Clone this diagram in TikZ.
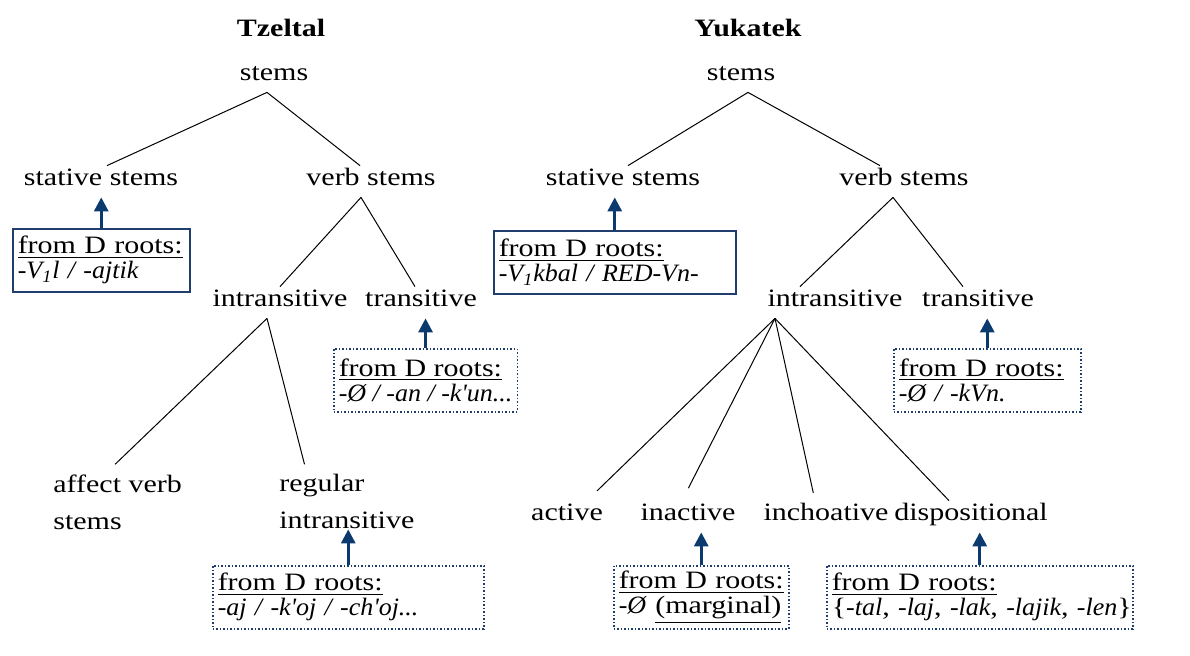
\documentclass[tikz,border=0pt]{standalone}
\usepackage{fontspec}
\setmainfont[FakeStretch=1.2,ItalicFeatures={FakeStretch=1.04}]{Liberation Serif}
\usepackage{tikz}
\usetikzlibrary{arrows.meta,positioning,calc}
\definecolor{Navy}{HTML}{1F3E6E}
\definecolor{DeepNavy}{HTML}{0B3A6E}

\begin{document}
\begin{tikzpicture}[
  x=0.5pt, y=-0.5pt,
  lbl/.style={
    anchor=base,
    inner sep=1pt,
    text height=8.5pt,
    text depth=5pt,
    font=\fontsize{12.5}{15}\selectfont
  },
  title/.style={
    lbl,
    font=\fontsize{12.5}{15}\selectfont\bfseries
  },
  leaf/.style={
    anchor=north west,
    inner sep=0pt,
    align=left,
    font=\fontsize{12.5}{18.5}\selectfont
  },
  rootbox/.style={
    anchor=north west,
    draw=Navy,
    line width=0.75pt,
    inner xsep=2.5pt,
    inner ysep=1pt,
    minimum height=31.5pt,
    align=left,
    font=\fontsize{12.5}{12.5}\selectfont
  },
  dotbox/.style={
    rootbox,
    densely dotted
  },
  branch/.style={black,line width=0.5pt},
  uparrow/.style={-{Triangle[width=7pt,length=7pt]},line width=1.5pt,color=DeepNavy}
]
\fill[white] (0,0) rectangle (1190,655);
\useasboundingbox (0,0) rectangle (1190,655);

\node[title] (tztitle) at (281,36) {Tzeltal};
\node[lbl] (tzstems) at (274,80) {stems};
\node[lbl] (tzstat) at (101,185) {stative stems};
\node[lbl] (tzverb) at (371,185) {verb stems};
\node[lbl] (tzintr) at (280,306) {intransitive};
\node[lbl] (tztrans) at (421,306) {transitive};
\node[leaf] (tzaffect) at (53,474) {affect verb\\stems};
\node[leaf] (tzreg) at (279,474) {regular\\intransitive};

\node[rootbox,text width=83.5pt] (tzstatbox) at (12,228) {\underline{from D roots:}\\\mbox{\textit{-V\textsubscript{1}l / -ajtik}}};
\node[dotbox] (tztransbox) at (333,348) {\underline{from D roots:}\\\mbox{\textit{-Ø / -an / -k\textquotesingle un...}}};
\node[dotbox,text width=130.5pt] (tzregbox) at (212,565) {\underline{from D roots:}\\\mbox{\textit{-aj / -k\textquotesingle oj / -ch\textquotesingle oj...}}};

\node[title] (yktitle) at (748,36) {Yukatek};
\node[lbl] (ykstems) at (741,80) {stems};
\node[lbl] (ykstat) at (623,185) {stative stems};
\node[lbl] (ykverb) at (904,185) {verb stems};
\node[lbl] (ykintr) at (835,306) {intransitive};
\node[lbl] (yktrans) at (978,306) {transitive};
\node[lbl] (ykact) at (567,520) {active};
\node[lbl] (ykinact) at (688,520) {inactive};
\node[lbl] (ykinch) at (826,520) {inchoative};
\node[lbl] (ykdisp) at (971,520) {dispositional};

\node[rootbox,text width=116pt] (ykstatbox) at (493,230) {\underline{from D roots:}\\\mbox{\textit{-V\textsubscript{1}kbal / RED-Vn-}}};
\node[dotbox,text width=88.5pt] (yktransbox) at (893,348) {\underline{from D roots:}\\\mbox{\textit{-Ø / -kVn.}}};
\node[dotbox,text width=82.5pt] (ykinactbox) at (613,565) {\underline{from D roots:}\\\mbox{\textit{-Ø} \underline{(marginal)}}};
\node[dotbox,text width=148pt] (ykdispbox) at (826,565) {\underline{from D roots:}\\\mbox{\{\textit{-tal}, \textit{-laj}, \textit{-lak}, \textit{-lajik}, \textit{-len}\}}};

\draw[branch] ([xshift=-3.5pt]tzstems.south) -- ([xshift=3pt]tzstat.north);
\draw[branch] ([xshift=-3.5pt]tzstems.south) -- ([xshift=-5.5pt]tzverb.north);
\draw[branch] ([xshift=-5pt]tzverb.south) -- (tzintr.north);
\draw[branch] ([xshift=-5pt]tzverb.south) -- ([xshift=-3pt]tztrans.north);
\draw[branch,shorten >=7pt] ([xshift=-6.5pt]tzintr.south) -- ([xshift=26pt]tzaffect.north west);
\draw[branch,shorten >=5pt] ([xshift=-6.5pt]tzintr.south) -- ([xshift=14pt]tzreg.north west);

\draw[branch] ([xshift=3.5pt]ykstems.south) -- ([xshift=2.5pt]ykstat.north);
\draw[branch] ([xshift=3.5pt]ykstems.south) -- ([xshift=-12pt]ykverb.north);
\draw[branch] ([xshift=-5.5pt]ykverb.south) -- ([xshift=-17.5pt]ykintr.north);
\draw[branch] ([xshift=-5.5pt]ykverb.south) -- ([xshift=-7.5pt]yktrans.north);
\draw[branch,shorten >=7pt] ([xshift=-30pt]ykintr.south) -- ([xshift=10pt]ykact.north);
\draw[branch,shorten >=7pt] ([xshift=-30pt]ykintr.south) -- ([xshift=-3pt]ykinact.north);
\draw[branch,shorten >=4pt] ([xshift=-30pt]ykintr.south) -- ([xshift=-5.5pt]ykinch.north);
\draw[branch] ([xshift=-30pt]ykintr.south) -- ([xshift=-11pt]ykdisp.north);

\draw[uparrow] (tzstatbox.north) -- (tzstatbox.north |- tzstat.south);
\draw[uparrow] (tztransbox.north) -- (tztransbox.north |- tztrans.south);
\draw[uparrow] (tzregbox.north) -- (tzregbox.north |- tzreg.south);
\draw[uparrow] (ykstatbox.north) -- (ykstatbox.north |- ykstat.south);
\draw[uparrow] (yktransbox.north) -- (yktransbox.north |- yktrans.south);
\draw[uparrow] (ykinactbox.north) -- (ykinactbox.north |- ykinact.south);
\draw[uparrow] (ykdispbox.north) -- (ykdispbox.north |- ykdisp.south);
\end{tikzpicture}
\end{document}
